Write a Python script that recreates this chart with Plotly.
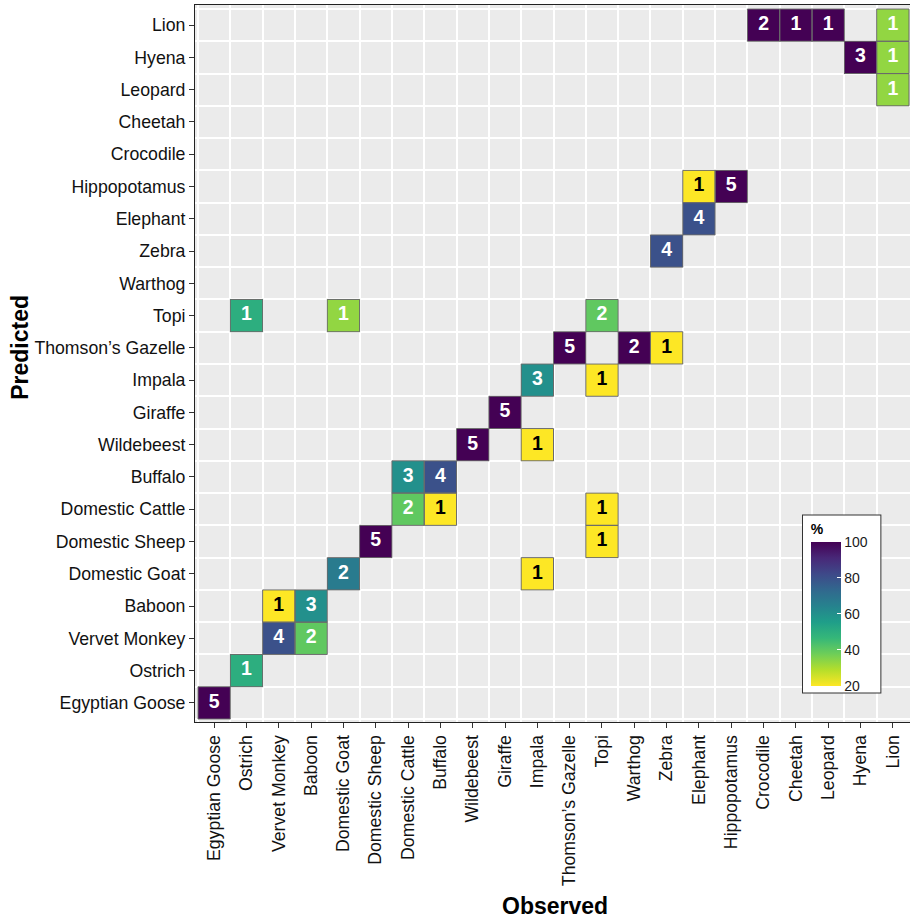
import plotly.graph_objects as go

# Species, in axis order (bottom-to-top on the predicted axis, left-to-right on observed)
species = [
    "Egyptian Goose", "Ostrich", "Vervet Monkey", "Baboon", "Domestic Goat",
    "Domestic Sheep", "Domestic Cattle", "Buffalo", "Wildebeest", "Giraffe",
    "Impala", "Thomson’s Gazelle", "Topi", "Warthog", "Zebra", "Elephant",
    "Hippopotamus", "Crocodile", "Cheetah", "Leopard", "Hyena", "Lion",
]

# Non-zero cells of the confusion matrix
cell_observed = [
    "Egyptian Goose", "Ostrich", "Ostrich", "Vervet Monkey", "Vervet Monkey",
    "Baboon", "Baboon", "Domestic Goat", "Domestic Goat", "Domestic Sheep",
    "Domestic Cattle", "Domestic Cattle", "Buffalo", "Buffalo", "Wildebeest",
    "Giraffe", "Impala", "Impala", "Impala", "Thomson’s Gazelle",
    "Topi", "Topi", "Topi", "Topi", "Warthog", "Zebra", "Zebra",
    "Elephant", "Elephant", "Hippopotamus", "Crocodile", "Cheetah", "Leopard",
    "Hyena", "Lion", "Lion", "Lion",
]
cell_predicted = [
    "Egyptian Goose", "Ostrich", "Topi", "Vervet Monkey", "Baboon",
    "Baboon", "Vervet Monkey", "Domestic Goat", "Topi", "Domestic Sheep",
    "Buffalo", "Domestic Cattle", "Buffalo", "Domestic Cattle", "Wildebeest",
    "Giraffe", "Impala", "Wildebeest", "Domestic Goat", "Thomson’s Gazelle",
    "Topi", "Impala", "Domestic Cattle", "Domestic Sheep", "Thomson’s Gazelle",
    "Thomson’s Gazelle", "Zebra", "Hippopotamus", "Elephant", "Hippopotamus",
    "Lion", "Lion", "Lion", "Hyena", "Lion", "Hyena", "Leopard",
]
cell_count = [
    5, 1, 1, 4, 1,
    3, 2, 2, 1, 5,
    3, 2, 4, 1, 5,
    5, 3, 1, 1, 5,
    2, 1, 1, 1, 2,
    1, 4, 1, 4, 5,
    2, 1, 1, 3, 1, 1, 1,
]

colorbar_ticks = [20, 40, 60, 80, 100]

n = len(species)
idx = {s: i for i, s in enumerate(species)}

# Percent of each observed class
col_total = {s: 0 for s in species}
for o, c in zip(cell_observed, cell_count):
    col_total[o] += c
cell_pct = [100.0 * c / col_total[o] for o, c in zip(cell_observed, cell_count)]

z = [[None] * n for _ in range(n)]
for o, p, v in zip(cell_observed, cell_predicted, cell_pct):
    z[idx[p]][idx[o]] = v

FONT = "Liberation Sans, Arial, Helvetica, sans-serif"

fig = go.Figure()

fig.add_trace(go.Heatmap(
    x=list(range(n)), y=list(range(n)), z=z,
    colorscale="Viridis", reversescale=True, zmin=20, zmax=100,
    hoverongaps=False,
    colorbar=dict(
        title=dict(text="<b>%</b>", side="top", font=dict(family=FONT, size=14, color="black")),
        tickvals=colorbar_ticks, ticks="inside", ticklen=4, tickcolor="white",
        tickfont=dict(family=FONT, size=14, color="#1a1a1a"),
        thickness=30, lenmode="pixels", len=177,
        x=0.850, xanchor="left", y=0.042, yanchor="bottom",
        xpad=8, ypad=6, outlinewidth=0,
        bgcolor="white", bordercolor="#333333", borderwidth=1,
    ),
))

# Cell outlines
for o, p in zip(cell_observed, cell_predicted):
    xi, yi = idx[o], idx[p]
    fig.add_shape(type="rect", x0=xi - 0.5, x1=xi + 0.5, y0=yi - 0.5, y1=yi + 0.5,
                  xref="x", yref="y", line=dict(color="#6b6b6b", width=1),
                  fillcolor="rgba(0,0,0,0)", layer="above")

# Count labels
fig.add_trace(go.Scatter(
    x=[idx[o] for o in cell_observed], y=[idx[p] for p in cell_predicted],
    mode="text", text=[str(c) for c in cell_count],
    textfont=dict(family=FONT, size=19.5, color=["black" if v < 30 else "white" for v in cell_pct],
                  weight="bold"),
    hoverinfo="skip", showlegend=False,
))

axis_common = dict(
    tickmode="array", tickvals=list(range(n)), ticktext=species,
    showgrid=False, zeroline=False,
    ticks="outside", ticklen=5, tickwidth=1, tickcolor="#333333",
    showline=True, linecolor="#222222", linewidth=1, mirror=True,
    tickfont=dict(family=FONT, size=17.7, color="#111111"),
    minor=dict(tickmode="array", tickvals=[i + 0.5 for i in range(-1, n)],
               showgrid=True, gridcolor="white", gridwidth=1.5, ticks=""),
)

fig.update_xaxes(**axis_common, range=[-0.593, 21.531], tickangle=-90)
fig.update_yaxes(**axis_common, range=[-0.593, 21.624])

fig.add_annotation(text="<b>Observed</b>", xref="paper", yref="paper", x=0.504, y=-0.2566,
                   showarrow=False, font=dict(family=FONT, size=23, color="black"),
                   xanchor="center", yanchor="middle")
fig.add_annotation(text="<b>Predicted</b>", xref="paper", yref="paper", x=-0.245, y=0.523,
                   showarrow=False, textangle=-90, font=dict(family=FONT, size=23, color="black"),
                   xanchor="center", yanchor="middle")

fig.update_layout(
    width=910, height=919,
    margin=dict(l=195, r=0, t=5, b=197),
    paper_bgcolor="white", plot_bgcolor="#EBEBEB",
    showlegend=False,
)

fig.write_html("out.html")
